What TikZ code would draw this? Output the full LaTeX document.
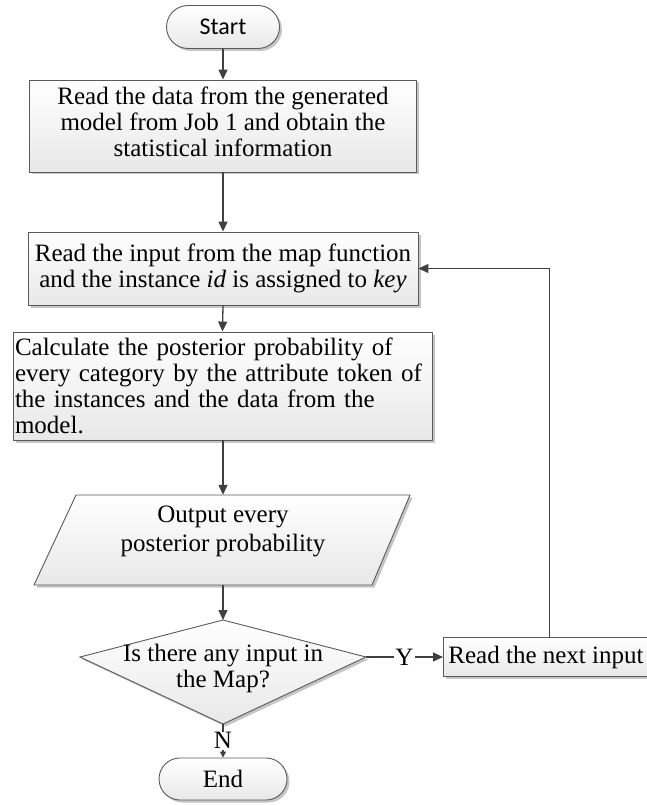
\documentclass[tikz,border=0pt]{standalone}
\usepackage{fontspec}
\setmainfont{Liberation Serif}
\newfontfamily\calfont{Carlito}
\usetikzlibrary{arrows.meta,shadows,shapes.misc}
\definecolor{linec}{HTML}{404040}
\definecolor{borderc}{HTML}{5A5A5A}
\begin{document}
\begin{tikzpicture}[x=1pt,y=-1pt,
  font=\fontsize{25}{26}\selectfont,
  boxstyle/.style={draw=borderc, line width=0.9pt, top color=white, bottom color=black!9,
     drop shadow={shadow xshift=2.5pt, shadow yshift=-2.5pt, fill=black!45, opacity=0.5}},
  arr/.style={draw=linec, line width=1.3pt, -{Triangle[length=10pt,width=9pt]}},
  smallarr/.style={draw=linec, line width=1.3pt, -{Triangle[length=6pt,width=6pt]}},
  lbl/.style={fill=white, inner sep=1pt},
  txt/.style={inner sep=0pt, align=center}
]
\useasboundingbox (0,0) rectangle (646,805);

% terminator Start
\node[boxstyle, rounded rectangle, minimum width=113pt, minimum height=43pt, inner sep=0pt,
      font=\calfont\fontsize{24}{26}\selectfont] (start) at (223,27) {Start};

% box 1
\node[boxstyle, minimum width=387pt, minimum height=92pt, inner sep=0pt] (b1) at (223,126) {};
\node[txt] (b1t) at (223,122)
  {Read the data from the generated\\model from Job 1 and obtain the\\statistical information};

% box 2
\node[boxstyle, minimum width=390pt, minimum height=73pt, inner sep=3pt, align=center] (b2) at (223,268.5)
  {Read the input from the map function\\and the instance \textit{id} is assigned to \textit{key}};

% box 3
\node[boxstyle, minimum width=419pt, minimum height=108pt, inner xsep=2pt, inner ysep=3pt,
      text width=415pt, align=left] (b3) at (222.5,386)
  {Calculate the posterior probability of\\every category by the attribute token of\\the instances and the data from the\\model.};

% parallelogram (output)
\path[boxstyle] (76,495) -- (410,495) -- (372,585) -- (34,585) -- cycle;
\node[minimum width=300pt, minimum height=90pt, inner sep=0pt] (out) at (223,540) {};
\node[txt, font=\fontsize{25}{29}\selectfont] (outtext) at (223,531)
  {Output every\\posterior probability};

% decision diamond
\coordinate (decN) at (223,620);
\coordinate (decE) at (366,657);
\coordinate (decS) at (223,724);
\coordinate (decW) at (80,657);
\path[boxstyle] (decN) -- (decE) -- (decS) -- (decW) -- cycle;
\node[txt] (dec) at (223,668) {Is there any input in\\the Map?};

% read next input
\node[boxstyle, minimum width=212pt, minimum height=39pt, inner sep=0pt, anchor=west] (next) at (443,657) {};
\node[txt] (nextt) at (546,657) {Read the next input};

% End
\node[boxstyle, rounded rectangle, minimum width=128pt, minimum height=42pt, inner sep=0pt] (end) at (223,779) {End};

% connectors
\draw[arr] (start.south) -- (b1.north);
\draw[arr] (b1.south) -- (b2.north);
\draw[arr] (b2.south) -- (b3.south |- b3.north);
\draw[arr] (b3.south -| out.north) -- (out.north);
\draw[arr] (out.south) -- (decN);
\draw[arr] (decE) -- node[lbl] {Y} (next.west);
\draw[arr] (next.north) -- (next.north |- b2.east) -- (b2.east);
\draw[smallarr] (decS) -- node[lbl] {N} (end.north);
\end{tikzpicture}
\end{document}
